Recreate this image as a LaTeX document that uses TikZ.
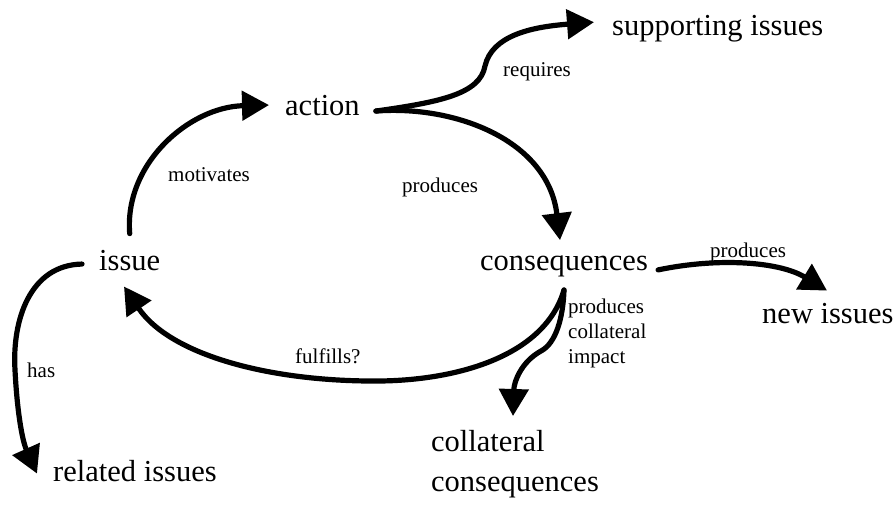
\documentclass[tikz,border=0pt]{standalone}
\usepackage{fontspec}
\setmainfont{Liberation Serif}
\usetikzlibrary{arrows.meta}
\tikzset{
  big/.style={font=\fontsize{30.5}{40}\selectfont, inner sep=0pt, anchor=base west, align=left},
  sml/.style={font=\fontsize{21}{24}\selectfont, inner sep=0pt, anchor=base west, align=left},
  conn/.style={line width=5.2pt, line cap=round, -{Triangle[length=27pt,width=29pt]}}
}
\begin{document}
\begin{tikzpicture}[x=1pt,y=-1pt]
\useasboundingbox (0,0) rectangle (896,506);
% main nodes
\node[big] (sup) at (612,35) {supporting issues};
\node[big] (action) at (285,115) {action};
\node[big] (issue) at (99,270) {issue};
\node[big] (cons) at (480,270) {consequences};
\node[big] (new) at (762,323) {new issues};
\node[big] (rel) at (53,481) {related issues};
\node[big, anchor=north west] (coll) at (431,430) {collateral\\consequences};
% connector end points
\coordinate (issueTop) at ([yshift=16pt]issue.north);
\coordinate (issueLeft) at ([xshift=-17pt,yshift=-4pt]issue.west);
\coordinate (actionRight) at ([xshift=16pt,yshift=-6pt]action.east);
\coordinate (consBottom) at (564,290);
\coordinate (consRight) at ([xshift=10pt,yshift=-4pt]cons.east);
% labels
\node[sml] (lreq) at (503,76) {requires};
\node[sml] (lmot) at (168,181) {motivates};
\node[sml] (lprod) at (402,192) {produces};
\node[sml] (lprod2) at (710,257) {produces};
\node[sml] (lful) at (295,363) {fulfills?};
\node[sml] (lhas) at (27,377) {has};
\node[sml, anchor=north west, font=\fontsize{21}{25}\selectfont] (lcoll) at (568,299) {produces\\collateral\\impact};
% connectors
\draw[conn] (issueTop) .. controls (124,164) and (189,107) .. ([xshift=-16pt]action.west);
\draw[conn] (actionRight) .. controls (440,102) and (480,94) .. (485,66) .. controls (492,36) and (530,27) .. ([xshift=-18pt,yshift=6pt]sup.west);
\draw[conn] (actionRight) .. controls (455,105) and (548,140) .. ([xshift=80pt,yshift=15pt]cons.north west);
\draw[conn] (consRight) .. controls (720,257) and (780,262) .. ([xshift=65pt,yshift=12pt]new.north west);
\draw[conn] (consBottom) .. controls (545,355) and (460,380) .. (380,381) .. controls (270,382) and (170,355) .. ([xshift=25pt,yshift=-16pt]issue.south west);
\draw[conn] (consBottom) .. controls (563,318) and (556,343) .. (541,351) .. controls (521,362) and (514,382) .. ([xshift=82pt,yshift=14pt]coll.north west);
\draw[conn] (issueLeft) .. controls (30,265) and (12,320) .. (15,370) .. controls (17,410) and (22,440) .. ([xshift=-16pt,yshift=-3pt]rel.west);
\end{tikzpicture}
\end{document}
